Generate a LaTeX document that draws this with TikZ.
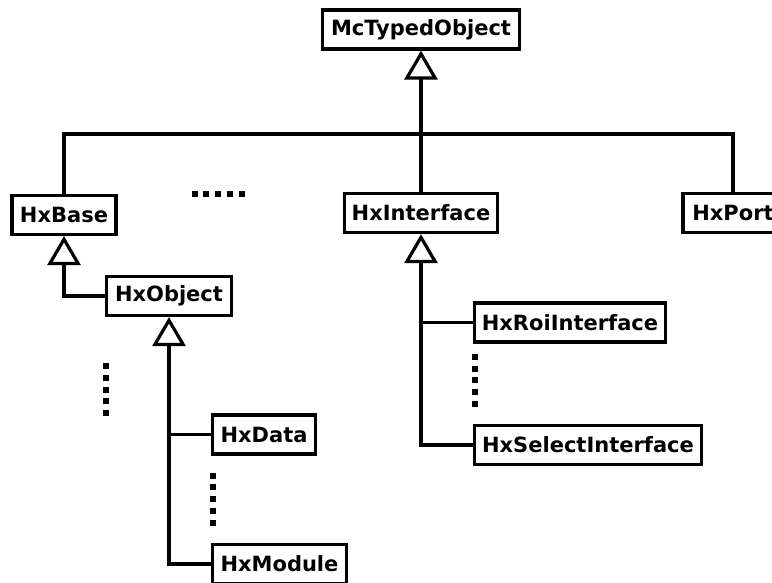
\documentclass[tikz,border=0pt]{standalone}
\usepackage{fontspec}
\setmainfont{DejaVu Sans}
\usetikzlibrary{arrows.meta}
\begin{document}
\begin{tikzpicture}[x=1pt,y=-1pt,
  cls/.style={draw, line width=3.2pt, fill=white,
    font=\fontsize{21}{24}\selectfont\bfseries,
    inner sep=0pt, minimum height=39pt},
  link/.style={line width=3.2pt},
  inherit/.style={link, -{Triangle[open, length=29pt, width=33pt]}},
  ellipsisdots/.style={line width=6pt, dash pattern=on 6pt off 5.7pt}
]
\useasboundingbox (0,0) rectangle (772,582);
\clip (0,0) rectangle (772,582);
\fill[white] (0,0) rectangle (772,582);

% classes
\node[cls, minimum width=197pt] (mto)   at (421,29.5)  {McTypedObject};
\node[cls, minimum width=104pt] (base)  at (64,215)    {HxBase};
\node[cls, minimum width=153pt] (iface) at (421,213)   {HxInterface};
\node[cls, minimum width=100pt] (port)  at (733,213)   {HxPort};
\node[cls, minimum width=125pt] (obj)   at (169,296)   {HxObject};
\node[cls, minimum width=103pt] (data)  at (264,434.5) {HxData};
\node[cls, minimum width=134pt] (mod)   at (279.5,564) {HxModule};
\node[cls, minimum width=191pt] (roi)   at (570,322.5) {HxRoiInterface};
\node[cls, minimum width=227pt] (sel)   at (588,445)   {HxSelectInterface};

% inheritance bus below the root class
\coordinate (bus) at (421,134);
\draw[link] (base.north) |- (bus) -| (port.north);
\draw[link] (iface.north) -- (bus);
\draw[inherit] (bus) -- (mto.south);

% HxBase branch
\draw[inherit] (obj.west) -| (base.south);
\draw[inherit] (mod.west) -| (obj.south);
\draw[link] (data.west) -- (data.west -| obj.south);

% HxInterface branch
\draw[inherit] (sel.west) -| (iface.south);
\draw[link] (roi.west) -- (roi.west -| iface.south);

% omitted classes
\draw[ellipsisdots] (191.7,194) -- (245,194);
\draw[ellipsisdots] (106.3,363.3) -- (106.3,417);
\draw[ellipsisdots] (212.7,472.7) -- (212.7,526);
\draw[ellipsisdots] (474.7,354) -- (474.7,407);
\end{tikzpicture}
\end{document}
